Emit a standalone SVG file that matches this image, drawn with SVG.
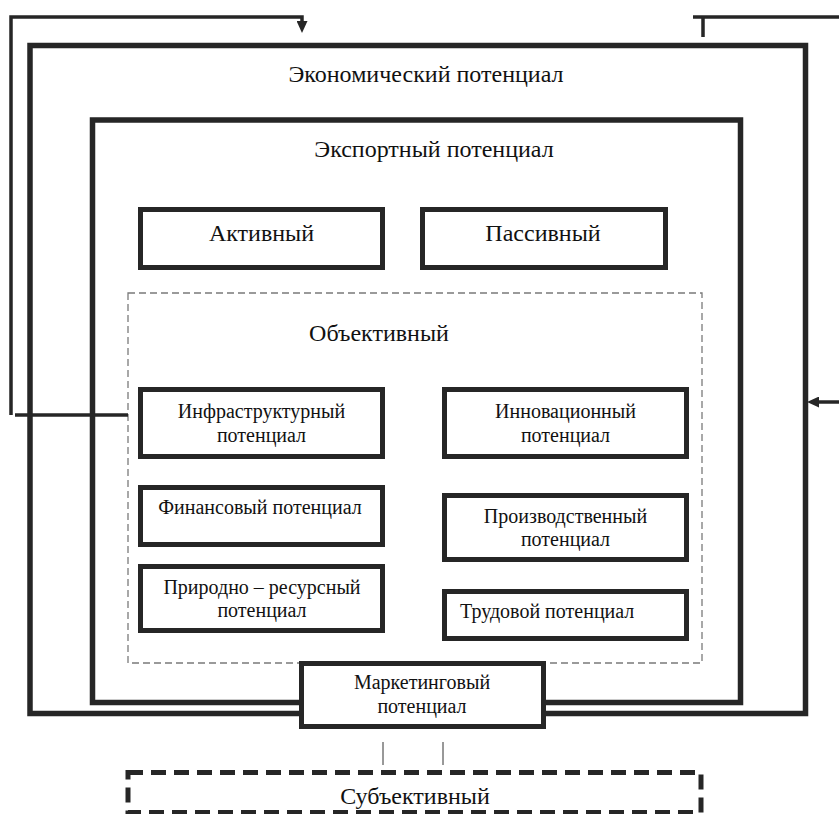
<svg xmlns="http://www.w3.org/2000/svg" width="839" height="814" viewBox="0 0 839 814">
<style>
.frame{fill:none;stroke:#262626;stroke-width:5.5}
.box{fill:#fff;stroke:#262626;stroke-width:5}
.t{font-family:"Liberation Serif","Times New Roman",serif;fill:#111;text-anchor:middle}
.s20{font-size:20px}
.s24{font-size:24px}
.link{fill:none;stroke:#262626;stroke-width:3.5}
.thin{fill:none;stroke:#333;stroke-width:1}
.dash{fill:none;stroke:#7a7a7a;stroke-width:1.3;stroke-dasharray:7 4}
.dashbold{fill:#fff;stroke:#262626;stroke-width:5;stroke-dasharray:15 8}
</style>
<defs>
<marker id="arr" viewBox="0 0 12 11" refX="0" refY="5.5" markerWidth="12" markerHeight="11" orient="auto" markerUnits="userSpaceOnUse">
<path d="M0,0 L12,5.5 L0,11 Z" fill="#262626"/>
</marker>
</defs>
<rect width="839" height="814" fill="#fff"/>

<g id="economic">
<rect class="frame" x="30" y="45.5" width="775.5" height="668"/>
<text class="t s24" x="426" y="82">Экономический потенциал</text>
</g>

<g id="export">
<rect class="frame" x="92.5" y="120" width="648" height="582.5"/>
<text class="t s24" x="434" y="157">Экспортный потенциал</text>
</g>

<g id="objective">
<rect class="dash" x="128" y="293" width="574" height="370"/>
<text class="t s24" x="379" y="341">Объективный</text>
</g>

<g id="connectors">
<path class="link" d="M11,415 V17 H302 V21" marker-end="url(#arr)"/>
<path class="link" d="M15,415 H128"/>
<path class="link" d="M693,17 H839 M703,17 V37"/>
<path class="link" d="M839,402 H819" marker-end="url(#arr)"/>
<path class="thin" d="M383,742 V765 M443,742 V765"/>
</g>

<g id="active">
<rect class="box" x="140.5" y="209.5" width="242" height="58"/>
<text class="t s24" x="261.5" y="241">Активный</text>
</g>
<g id="passive">
<rect class="box" x="422.5" y="209.5" width="243" height="58"/>
<text class="t s24" x="543" y="241">Пассивный</text>
</g>

<g id="infra">
<rect class="box" x="140.5" y="389.5" width="242" height="67"/>
<text class="t s20" x="261.5" y="418">Инфраструктурный</text>
<text class="t s20" x="261.5" y="442">потенциал</text>
</g>
<g id="innov">
<rect class="box" x="444.5" y="389.5" width="242" height="67"/>
<text class="t s20" x="565.5" y="418">Инновационный</text>
<text class="t s20" x="565.5" y="442">потенциал</text>
</g>
<g id="finance">
<rect class="box" x="140.5" y="487.5" width="242" height="57"/>
<text class="t s20" x="260" y="514">Финансовый потенциал</text>
</g>
<g id="production">
<rect class="box" x="444.5" y="495.5" width="242" height="64"/>
<text class="t s20" x="565.5" y="523">Производственный</text>
<text class="t s20" x="565.5" y="546">потенциал</text>
</g>
<g id="natural">
<rect class="box" x="140.5" y="566.5" width="242" height="64"/>
<text class="t s20" x="262" y="594">Природно – ресурсный</text>
<text class="t s20" x="262" y="617">потенциал</text>
</g>
<g id="labour">
<rect class="box" x="444.5" y="591.5" width="242" height="47"/>
<text class="t s20" x="460" y="618" style="text-anchor:start">Трудовой потенциал</text>
</g>

<g id="marketing">
<rect class="box" x="301.5" y="663.5" width="242" height="63"/>
<text class="t s20" x="422" y="689">Маркетинговый</text>
<text class="t s20" x="422" y="713">потенциал</text>
</g>

<g id="subjective">
<rect class="dashbold" x="128" y="772.5" width="573" height="40"/>
<text class="t s24" x="415" y="804">Субъективный</text>
</g>
</svg>
